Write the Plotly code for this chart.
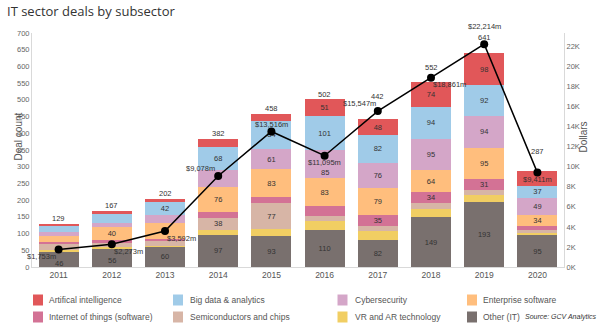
import plotly.graph_objects as go

# ---------------- data ----------------
years = ["2011", "2012", "2013", "2014", "2015", "2016", "2017", "2018", "2019", "2020"]

other_it = [46, 56, 60, 97, 93, 110, 82, 149, 193, 95]
vr_ar = [6, 5, 4, 13, 21, 27, 26, 26, 23, 7]
semiconductors = [18, 11, 13, 38, 77, 15, 14, 16, 15, 9]
iot_software = [4, 8, 8, 16, 18, 30, 35, 34, 31, 12]
enterprise_sw = [20, 40, 48, 76, 83, 83, 79, 64, 95, 34]
cybersecurity = [10, 13, 22, 50, 61, 85, 76, 95, 94, 49]
big_data = [21, 26, 42, 68, 84, 101, 82, 94, 92, 37]
artificial_int = [4, 8, 5, 24, 21, 51, 48, 74, 98, 44]

dollars_m = [1753, 2273, 3592, 9078, 13516, 11095, 15547, 18861, 22214, 9411]

# stacking order bottom -> top
series = [
    ("Other (IT)", other_it, "#79706e"),
    ("VR and AR technology", vr_ar, "#f1ce63"),
    ("Semiconductors and chips", semiconductors, "#d7b5a6"),
    ("Internet of things (software)", iot_software, "#d37295"),
    ("Enterprise software", enterprise_sw, "#ffbe7d"),
    ("Cybersecurity", cybersecurity, "#d4a6c8"),
    ("Big data & analytics", big_data, "#a0cbe8"),
    ("Artifical intelligence", artificial_int, "#e15759"),
]

# segment labels hidden by the line / its labels in the original
hidden_labels = {("Cybersecurity", "2014"), ("Enterprise software", "2013"),
                 ("Artifical intelligence", "2020"), ("Internet of things (software)", "2016")}
# segment labels moved (pixels, positive = down) to dodge the line labels
nudged_labels = {("Cybersecurity", "2016"): 8, ("Other (IT)", "2011"): 4, ("Other (IT)", "2012"): 3}

totals = [sum(s[1][i] for s in series) for i in range(len(years))]

# ---------------- layout helpers ----------------
W, H = 600, 328
ML, MR, MT, MB = 32, 36, 33, 61
PW, PH = W - ML - MR, H - MT - MB


def px(x):
    return (x - ML) / PW


def py(y):
    return (H - MB - y) / PH


FONT = "Liberation Sans, Arial, sans-serif"
SEG_FONT = dict(size=7.5, color="#333333", family=FONT)

fig = go.Figure()
annotations = []

base = [0] * len(years)
for name, vals, color in series:
    txt = []
    for i, (v, yr) in enumerate(zip(vals, years)):
        show = v >= 30 and (name, yr) not in hidden_labels
        if show and (name, yr) in nudged_labels:
            annotations.append(dict(x=i, y=base[i] + v / 2, xref="x", yref="y",
                                    yshift=-nudged_labels[(name, yr)], text=str(v),
                                    showarrow=False, font=SEG_FONT))
            txt.append("")
        else:
            txt.append(str(v) if show else "")
    fig.add_bar(
        x=years, y=vals, name=name, marker_color=color, marker_line_width=0,
        text=txt, texttemplate="%{text}", textposition="inside", insidetextanchor="middle",
        textangle=0, constraintext="none", insidetextfont=SEG_FONT,
        showlegend=False, hoverinfo="skip",
    )
    base = [b + v for b, v in zip(base, vals)]

fig.add_scatter(
    x=years, y=dollars_m, yaxis="y2", mode="lines+markers",
    line=dict(color="black", width=1.5), marker=dict(size=8, color="black"),
    showlegend=False, hoverinfo="skip",
)

# total labels above bars (x given as category index)
total_shift = [5.5, 5.5, 5.5, 5.5, 5.5, 5, 22.7, 15.4, 15.7, 19.3]
for i, (t, s) in enumerate(zip(totals, total_shift)):
    annotations.append(dict(x=i, y=t, xref="x", yref="y", yshift=s, text=str(t),
                            showarrow=False, font=dict(size=7.5, color="#333333", family=FONT)))

# dollar labels around line points: (xanchor, xshift, yshift)
dollar_place = [("right", -1, -7.5), ("left", 0, -7), ("left", 0, -7.5), ("right", -1, 7),
                ("center", 0, 7), ("center", 0, -7), ("right", 0, 8), ("left", 0, -7),
                ("center", 0, 17.5), ("center", 0, -7)]
for i, (d, (xa, xs, ys)) in enumerate(zip(dollars_m, dollar_place)):
    annotations.append(dict(x=i, y=d, xref="x", yref="y2", xanchor=xa, xshift=xs, yshift=ys,
                            text=f"${d:,}m", showarrow=False,
                            font=dict(size=7.5, color="#333333", family=FONT)))

# axis titles
annotations.append(dict(x=px(10), y=py(137), xref="paper", yref="paper", text="Deal count",
                        textangle=-90, showarrow=False, font=dict(size=10, color="#555555", family=FONT)))
annotations.append(dict(x=px(590), y=py(137), xref="paper", yref="paper", text="Dollars",
                        textangle=-90, showarrow=False, font=dict(size=10, color="#555555", family=FONT)))

# manual legend
shapes = []
legend_layout = [
    ("Artifical intelligence", 33, 47, 300), ("Big data & analytics", 173, 188, 300),
    ("Cybersecurity", 337.5, 353, 300), ("Enterprise software", 467, 481, 300),
    ("Internet of things (software)", 33, 47, 317), ("Semiconductors and chips", 173, 188, 317),
    ("VR and AR technology", 337.5, 353, 317), ("Other (IT)", 467, 481, 317),
]
colors = {n: c for n, _, c in series}
for name, sx, tx, ry in legend_layout:
    shapes.append(dict(type="rect", xref="paper", yref="paper", x0=px(sx), x1=px(sx + 10),
                       y0=py(ry + 5.5), y1=py(ry - 5.5), fillcolor=colors[name], line=dict(width=0)))
    annotations.append(dict(x=px(tx), y=py(ry), xref="paper", yref="paper", xanchor="left",
                            yanchor="middle", text=name, showarrow=False,
                            font=dict(size=8.5, color="#555555", family=FONT)))

annotations.append(dict(x=px(598), y=py(317), xref="paper", yref="paper", xanchor="right",
                        yanchor="middle", text="<i>Source: GCV Analytics</i>", showarrow=False,
                        font=dict(size=7, color="#333333",
                                  family="Liberation Sans Narrow, Liberation Sans, Arial, sans-serif")))

right_max = 700 * 100 / 3
right_ticks = list(range(0, 22001, 2000))

fig.update_layout(
    width=W, height=H,
    margin=dict(l=ML, r=MR, t=MT, b=MB),
    paper_bgcolor="white", plot_bgcolor="white",
    barmode="stack", bargap=0.25,
    title=dict(text="IT sector deals by subsector", xref="container", yref="container",
               x=7 / W, y=1 - 11 / H, xanchor="left", yanchor="middle",
               font=dict(size=13, color="#333333", family="Open Sans, sans-serif")),
    xaxis=dict(type="category", range=[-0.5, 9.5], showline=True, linecolor="#d9d9d9",
               ticks="", showgrid=False, tickfont=dict(size=8.5, color="#555555", family=FONT)),
    yaxis=dict(range=[0, 700], dtick=50, showgrid=False, zeroline=False, showline=True,
               linecolor="#d9d9d9", ticks="", tickfont=dict(size=7.5, color="#666666", family=FONT)),
    yaxis2=dict(overlaying="y", side="right", range=[0, right_max], tickvals=right_ticks,
                ticktext=[f"{v // 1000}K" for v in right_ticks], showgrid=False, zeroline=False,
                showline=True, linecolor="#d9d9d9", ticks="",
                tickfont=dict(size=7.5, color="#666666", family=FONT)),
    annotations=annotations, shapes=shapes,
)

fig.write_html("out.html")
